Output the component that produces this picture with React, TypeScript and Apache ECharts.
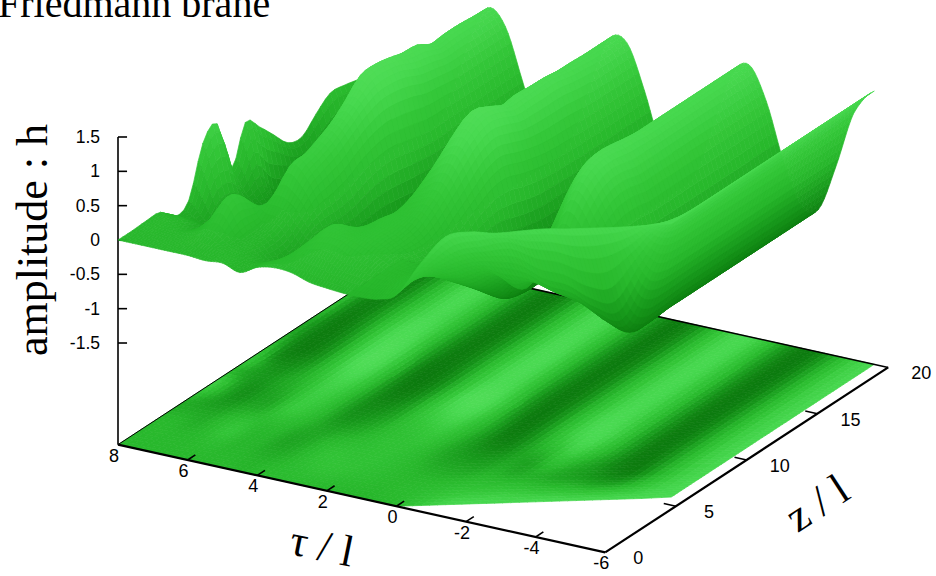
import React, { useEffect, useRef } from "react";
import * as echarts from "echarts";

// Tau rows (front edge of the domain is z = zFloor[row])
const tauRows = [8, 7.5, 7, 6.5, 6, 5.5, 5, 4.5, 4, 3.5, 3, 2.5, 2, 1.5, 1, 0.5, 0, -0.5, -1, -1.5, -2, -2.5, -3, -3.5, -4, -4.5, -5, -5.6];
const zFloor = [0, 0, 0, 0, 0, 0, 0, 0, 0, 0, 0, 0, 0, 0, 0, 0, 0, 0.5, 1, 1.5, 2, 2.5, 3, 3.5, 4, 4.5, 5, 5.65];
// amplitude per tau row, 21 samples from zFloor up to z = 20
const amplitude = [
  [0, 0, 0.01, 0, -0.2, -0.1, 0.6, 0.75, -0.05, 0.5, 0.3, 0.05, -0.2, -0.25, -0.05, 0.12, 0.1, 0.05, 0.02, 0, 0],
  [0, 0.02, 0.03, -0.02, -0.2, -0.35, -0.15, -0.2, -0.4, -0.35, -0.7, -0.8, -0.85, -0.85, -0.85, -0.8, -0.75, -0.75, -0.8, -0.85, -0.85],
  [0, 0, -0.03, -0.15, -0.25, -0.45, -0.65, -0.65, -0.55, -0.65, -0.8, -0.95, -0.95, -0.95, -0.9, -0.85, -0.85, -0.85, -0.88, -0.9, -0.9],
  [0, 0.02, 0.03, 0.1, 0.05, -0.2, -0.4, -0.4, -0.3, -0.35, -0.5, -0.55, -0.5, -0.4, -0.3, -0.25, -0.25, -0.3, -0.3, -0.3, -0.3],
  [0, 0.05, 0.2, 0.45, 0.3, -0.05, -0.25, -0.15, 0, 0.15, 0.3, 0.4, 0.5, 0.6, 0.65, 0.6, 0.55, 0.5, 0.5, 0.5, 0.5],
  [-0.02, 0, -0.02, 0, 0.02, 0.25, 0.55, 0.58, 0.68, 0.8, 0.98, 1.2, 1.22, 1.18, 1.12, 1.1, 0.98, 1, 1, 0.98, 0.97],
  [0, -0.02, -0.05, -0.05, 0, 0.15, 0.4, 0.5, 0.6, 0.75, 0.9, 1, 1, 0.95, 0.85, 0.8, 0.75, 0.75, 0.75, 0.75, 0.75],
  [-0.08, -0.08, -0.2, -0.33, -0.3, -0.15, -0.1, -0.1, -0.05, 0.05, 0.1, 0.1, 0.05, 0, -0.02, 0, 0, 0, 0, 0, 0],
  [0.05, 0, -0.12, -0.2, -0.25, -0.35, -0.55, -0.65, -0.7, -0.75, -0.8, -0.85, -0.85, -0.8, -0.78, -0.76, -0.76, -0.76, -0.76, -0.76, -0.76],
  [0.1, 0.12, 0.15, 0.15, 0.05, -0.2, -0.45, -0.6, -0.75, -0.9, -0.98, -1, -0.98, -0.97, -0.97, -0.97, -0.97, -0.97, -0.97, -0.97, -0.98],
  [0.08, 0.2, 0.33, 0.38, 0.2, 0, -0.15, -0.3, -0.4, -0.5, -0.6, -0.65, -0.6, -0.55, -0.53, -0.53, -0.53, -0.53, -0.53, -0.53, -0.53],
  [0, 0.2, 0.35, 0.3, 0.25, 0.25, 0.2, 0.25, 0.35, 0.4, 0.35, 0.3, 0.3, 0.3, 0.3, 0.3, 0.3, 0.3, 0.3, 0.3, 0.3],
  [-0.03, 0.1, 0.25, 0.3, 0.3, 0.3, 0.33, 0.5, 0.75, 1, 1.15, 1.05, 0.95, 0.98, 0.96, 0.95, 0.93, 0.93, 0.92, 0.92, 0.92],
  [-0.05, 0.05, 0.15, 0.2, 0.2, 0.25, 0.4, 0.6, 0.85, 1.05, 1.15, 1.1, 1, 1, 1, 1, 0.95, 0.92, 0.9, 0.9, 0.9],
  [-0.05, 0, 0.05, 0.05, 0, -0.05, 0, 0.15, 0.3, 0.45, 0.5, 0.42, 0.35, 0.3, 0.28, 0.27, 0.26, 0.26, 0.26, 0.26, 0.26],
  [-0.02, 0.05, 0.05, -0.05, -0.2, -0.35, -0.4, -0.4, -0.35, -0.4, -0.5, -0.55, -0.58, -0.56, -0.56, -0.56, -0.56, -0.56, -0.56, -0.56, -0.56],
  [0.1, 0.15, 0.1, -0.05, -0.25, -0.45, -0.65, -0.85, -0.95, -1, -1, -1, -1, -0.99, -0.99, -0.99, -0.99, -0.99, -0.99, -0.99, -0.99],
  [0.55, 0.4, 0.2, -0.05, -0.3, -0.5, -0.7, -0.8, -0.8, -0.78, -0.75, -0.73, -0.73, -0.73, -0.73, -0.73, -0.73, -0.73, -0.73, -0.73, -0.73],
  [0.92, 0.6, 0.3, 0.05, -0.15, -0.3, -0.3, -0.2, -0.05, 0.05, 0.08, 0.05, 0.04, 0.04, 0.04, 0.04, 0.04, 0.04, 0.04, 0.04, 0.04],
  [0.98, 0.65, 0.3, -0.08, -0.35, -0.32, 0, 0.45, 0.75, 0.85, 0.85, 0.8, 0.78, 0.78, 0.78, 0.78, 0.78, 0.78, 0.78, 0.78, 0.78],
  [0.95, 0.7, 0.25, -0.12, -0.02, 0.3, 0.7, 0.95, 1.05, 1.05, 1.02, 1, 0.98, 0.98, 0.98, 0.98, 0.98, 0.98, 0.98, 0.98, 0.98],
  [0.97, 0.6, 0.05, -0.28, -0.25, -0.05, 0.25, 0.45, 0.55, 0.55, 0.5, 0.5, 0.5, 0.5, 0.5, 0.5, 0.5, 0.5, 0.5, 0.5, 0.5],
  [0.99, 0.55, -0.05, -0.42, -0.5, -0.45, -0.35, -0.3, -0.33, -0.33, -0.33, -0.33, -0.33, -0.33, -0.33, -0.33, -0.33, -0.33, -0.33, -0.33, -0.33],
  [0.98, 0.45, -0.25, -0.65, -0.85, -0.9, -0.92, -0.92, -0.92, -0.92, -0.92, -0.92, -0.92, -0.92, -0.92, -0.92, -0.92, -0.92, -0.92, -0.92, -0.92],
  [0.98, 0.45, -0.3, -0.75, -0.92, -0.93, -0.92, -0.9, -0.9, -0.9, -0.9, -0.9, -0.9, -0.9, -0.9, -0.9, -0.9, -0.9, -0.9, -0.9, -0.9],
  [0.98, 0.6, 0.2, -0.1, -0.2, -0.22, -0.22, -0.22, -0.22, -0.22, -0.22, -0.22, -0.22, -0.22, -0.22, -0.22, -0.22, -0.22, -0.22, -0.22, -0.22],
  [0.99, 0.85, 0.7, 0.62, 0.6, 0.6, 0.6, 0.6, 0.6, 0.6, 0.6, 0.6, 0.6, 0.6, 0.6, 0.6, 0.6, 0.6, 0.6, 0.6, 0.6],
  [1, 1, 1, 1, 1, 1, 1, 1, 1, 1, 1, 1, 1, 1, 1, 1, 1, 1, 1, 1, 1],
];
const tauTicks = [8, 6, 4, 2, 0, -2, -4, -6];
const zTicks = [0, 5, 10, 15, 20];
const hTicks = [1.5, 1, 0.5, 0, -0.5, -1, -1.5];
const paletteStops = ["#0c7a0e", "#189a1c", "#28b82c", "#34c739", "#48d950", "#58e05e"];

const FLOOR = -2.98;
const project = (t: number, z: number, h: number): [number, number] => [
  118 + 34.8 * (8 - t) + 14.15 * z,
  240 + 7.7 * (8 - t) - 9.25 * z - 68.67 * h,
];
const colorOf = (h: number) => echarts.color.lerp(Math.min(1, Math.max(0, (h + 1) / 2.5)), paletteStops) as string;

const crom = (a: number, b: number, c: number, d: number, u: number) =>
  0.5 * (2 * b + (c - a) * u + (2 * a - 5 * b + 4 * c - d) * u * u + (3 * b - a - 3 * c + d) * u * u * u);
const R = tauRows.length;
const C = amplitude[0].length;
const sample = (fi: number, fj: number) => {
  const i = Math.min(R - 2, Math.floor(fi));
  const j = Math.min(C - 2, Math.floor(fj));
  const u = fi - i;
  const v = fj - j;
  const col = (r: number) => {
    const row = amplitude[Math.max(0, Math.min(R - 1, r))];
    return crom(row[Math.max(0, j - 1)], row[j], row[j + 1], row[Math.min(C - 1, j + 2)], v);
  };
  return crom(col(i - 1), col(i), col(i + 1), col(i + 2), u);
};
const place = (fi: number, fj: number) => {
  const i = Math.min(R - 2, Math.floor(fi));
  const u = fi - i;
  const t = tauRows[i] + (tauRows[i + 1] - tauRows[i]) * u;
  const f = zFloor[i] + (zFloor[i + 1] - zFloor[i]) * u;
  return { t, z: f + ((20 - f) * fj) / (C - 1), h: sample(fi, fj) };
};

function buildCells(flat: boolean, subT: number, subZ: number) {
  const out: number[][] = [];
  for (let a = 0; a < (R - 1) * subT; a++) {
    for (let b = 0; b < (C - 1) * subZ; b++) {
      const corners = [[a, b], [a + 1, b], [a + 1, b + 1], [a, b + 1]].map(([p, q]) => place(p / subT, q / subZ));
      const pts = corners.flatMap((c) => project(c.t, c.z, flat ? FLOOR : c.h));
      const mean = (k: "t" | "z" | "h") => corners.reduce((s, c) => s + c[k], 0) / 4;
      out.push([...pts, mean("h"), mean("t") + mean("z") - 0.5 * mean("h")]);
    }
  }
  return out.sort((p, q) => q[9] - p[9]);
}

const polygonItem = (_: any, api: any) => {
  const points = [0, 2, 4, 6].map((k) => api.coord([api.value(k), api.value(k + 1)]));
  const fill = colorOf(api.value(8));
  return { type: "polygon", shape: { points }, style: { fill, stroke: fill, lineWidth: 0.7 } };
};

const lineRows: number[][] = [
  [...project(8, 0, FLOOR), ...project(-6, 0, FLOOR), 2.2],
  [...project(-6, 0, FLOOR), ...project(-6, 20, FLOOR), 2.2],
  [...project(-6, 20, FLOOR), ...project(8, 20, FLOOR), 1.6],
  [...project(8, 20, FLOOR), ...project(8, 0, FLOOR), 1],
  [...project(8, 0, FLOOR), ...project(8, 0, 1.5), 1.6],
  ...hTicks.map((h) => [...project(8, 0, h), ...project(8 - 0.26, 0, h).map((v, k) => (k ? project(8, 0, h)[1] : v)), 1.6]),
  ...tauTicks.slice(1, -1).map((t) => [...project(t, 0, FLOOR), ...project(t, 0.55, FLOOR), 1.6]),
  ...zTicks.slice(1, -1).map((z) => [...project(-6, z, FLOOR), ...project(-5.65, z, FLOOR), 1.6]),
];

const textRows: [string, number, number, number, number, string, string][] = [
  ...tauTicks.map((t) => {
    const p = project(t, 0, FLOOR);
    return [String(t), p[0] - 4, p[1] + 11, 0, 18, "sans", "center"] as any;
  }),
  ...zTicks.map((z) => {
    const p = project(-6, z, FLOOR);
    return [String(z), p[0] + 33, p[1] + 6, 0, 18, "sans", "center"] as any;
  }),
  ...hTicks.map((h) => {
    const p = project(8, 0, h);
    return [String(h), p[0] - 18, p[1], 0, 17.5, "sans", "right"] as any;
  }),
  ["Friedmann brane", -2, 3, 0, 40, "serif", "left"],
  ["amplitude : h", 32, 240, Math.PI / 2, 44, "serif", "center"],
  ["τ / l", 322, 546, -0.2, 44, "serif", "center"],
  ["z / l", 817, 503, 0.58, 44, "serif", "center"],
];

export default function App() {
  const ref = useRef<HTMLDivElement>(null);
  useEffect(() => {
    const chart = echarts.init(ref.current!, undefined, { renderer: "svg" });
    chart.setOption({
      animation: false,
      grid: { left: 0, right: 0, top: 0, bottom: 0 },
      xAxis: { type: "value", min: 0, max: 936, show: false },
      yAxis: { type: "value", min: 0, max: 576, inverse: true, show: false },
      series: [
        { type: "custom", z: 1, silent: true, progressive: 0, clip: false, coordinateSystem: "cartesian2d", data: buildCells(true, 3, 3), renderItem: polygonItem },
        {
          type: "custom", z: 2, silent: true, progressive: 0, clip: false, data: lineRows,
          renderItem: (_: any, api: any) => {
            const a = api.coord([api.value(0), api.value(1)]);
            const b = api.coord([api.value(2), api.value(3)]);
            return { type: "line", shape: { x1: a[0], y1: a[1], x2: b[0], y2: b[1] }, style: { stroke: "#000", lineWidth: api.value(4) } };
          },
        },
        { type: "custom", z: 3, silent: true, progressive: 0, clip: false, data: buildCells(false, 6, 3), renderItem: polygonItem },
        {
          type: "custom", z: 4, silent: true, clip: false, data: textRows.map((_, i) => [i, i]),
          renderItem: (params: any, api: any) => {
            const [text, x, y, rot, size, fam, align] = textRows[params.dataIndex];
            const p = api.coord([x, y]);
            return {
              type: "text", x: p[0], y: p[1], rotation: rot,
              style: {
                text, fill: "#000", fontSize: size, align,
                verticalAlign: "middle",
                fontFamily: fam === "serif" ? "Liberation Serif" : "Liberation Sans",
              },
            };
          },
        },
      ],
    });
    return () => chart.dispose();
  }, []);
  return <div ref={ref} style={{ position: "absolute", left: 0, top: 0, width: 936, height: 576 }} />;
}
